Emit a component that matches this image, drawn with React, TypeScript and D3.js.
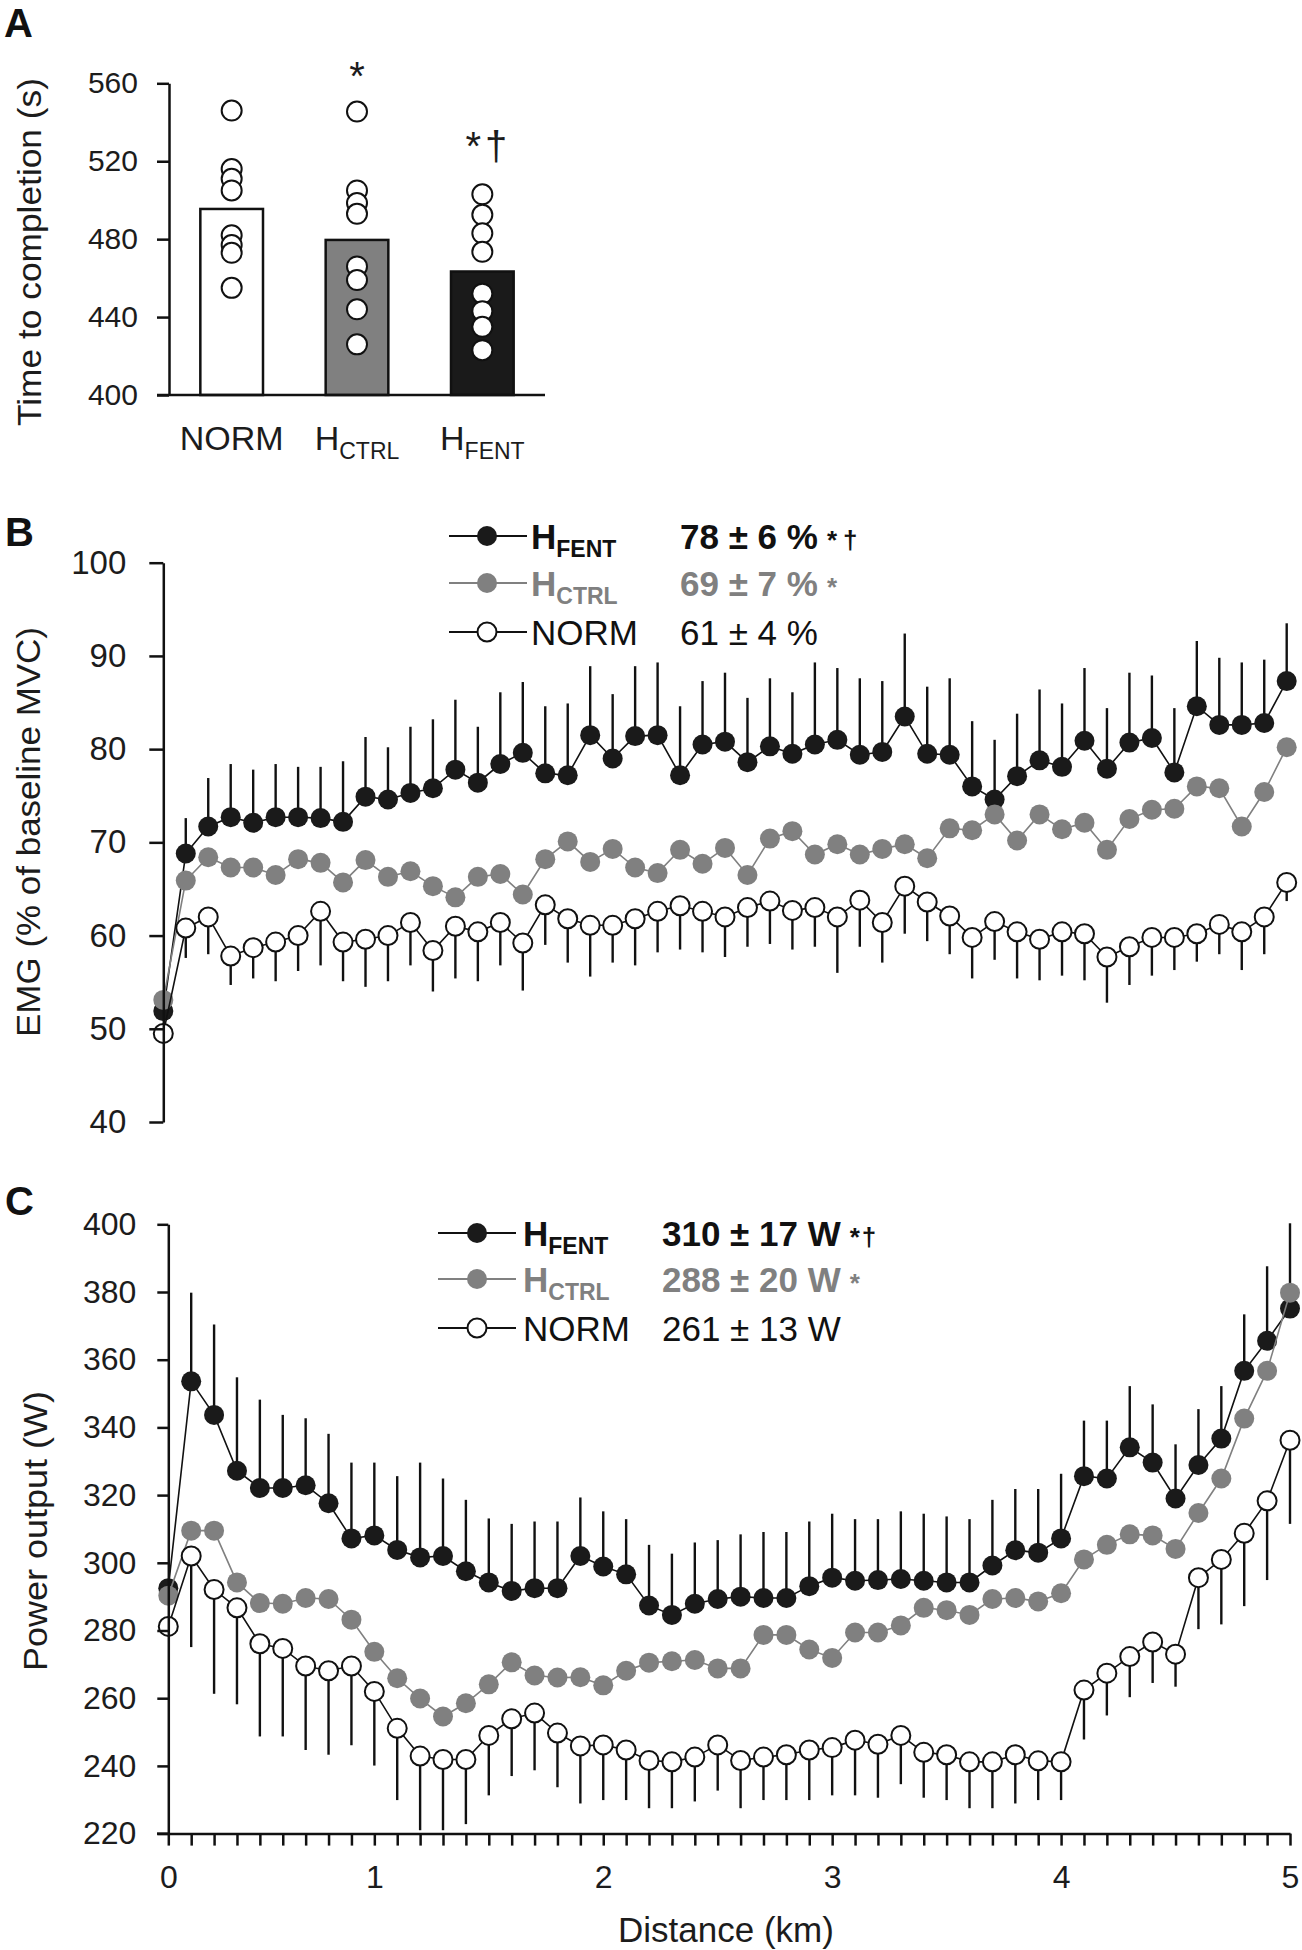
import React, { useEffect, useRef } from "react";
import * as d3 from "d3";

// ---------- Panel A: time to completion ----------
const groups = ["NORM", "HCTRL", "HFENT"];
const timeMean = [495.5, 479.6, 463.4];
const timeNorm = [546, 516, 511, 505, 482, 477, 473, 455];
const timeCtrl = [545.5, 505, 498.5, 493, 466, 459, 444, 426];
const timeFent = [503, 492.5, 483, 473.5, 452, 443, 435, 423];
const timeTicks = [400, 440, 480, 520, 560];

// ---------- Panel B: EMG ----------
const emgDistance = [
  0, 0.1, 0.2, 0.3, 0.4, 0.5, 0.6, 0.7, 0.8, 0.9, 1, 1.1, 1.2, 1.3, 1.4, 1.5, 1.6,
  1.7, 1.8, 1.9, 2, 2.1, 2.2, 2.3, 2.4, 2.5, 2.6, 2.7, 2.8, 2.9, 3, 3.1, 3.2, 3.3,
  3.4, 3.5, 3.6, 3.7, 3.8, 3.9, 4, 4.1, 4.2, 4.3, 4.4, 4.5, 4.6, 4.7, 4.8, 4.9, 5,
];
const emgFent = [
  51.9, 68.8, 71.7, 72.7, 72.1, 72.7, 72.7, 72.6, 72.2, 74.9,
  74.6, 75.3, 75.8, 77.8, 76.4, 78.4, 79.6, 77.4, 77.2, 81.5,
  79.0, 81.4, 81.5, 77.2, 80.5, 80.8, 78.6, 80.3, 79.5, 80.5,
  81.0, 79.4, 79.7, 83.5, 79.5, 79.4, 76.0, 74.6, 77.1, 78.8,
  78.1, 80.9, 77.9, 80.7, 81.2, 77.5, 84.6, 82.6, 82.6, 82.8,
  87.3,
];
const emgFentSd = [
  0, 3.8, 5.2, 5.7, 5.7, 5.7, 5.4, 5.5, 6.5, 6.4,
  5.6, 7.1, 7.4, 7.5, 6.0, 7.7, 7.6, 7.2, 7.7, 7.4,
  6.9, 7.5, 7.8, 7.4, 6.8, 7.4, 6.9, 7.3, 6.6, 8.8,
  7.7, 8.2, 7.6, 8.9, 7.2, 8.2, 7.0, 6.4, 6.7, 7.6,
  6.8, 7.8, 6.5, 7.5, 6.7, 6.9, 7.0, 7.2, 6.7, 6.8,
  6.2,
];
const emgCtrl = [
  53.1, 65.9, 68.4, 67.3, 67.3, 66.5, 68.2, 67.8, 65.7, 68.1,
  66.3, 66.9, 65.3, 64.1, 66.3, 66.6, 64.4, 68.2, 70.1, 67.9,
  69.3, 67.3, 66.7, 69.2, 67.7, 69.4, 66.5, 70.4, 71.2, 68.7,
  69.8, 68.7, 69.3, 69.8, 68.3, 71.5, 71.3, 73.0, 70.2, 73.0,
  71.4, 72.1, 69.2, 72.5, 73.5, 73.6, 76.0, 75.8, 71.7, 75.4,
  80.2,
];
const emgNorm = [
  49.5, 60.8, 62.0, 57.8, 58.7, 59.3, 60.0, 62.6, 59.3, 59.6,
  60.0, 61.4, 58.4, 61.0, 60.4, 61.4, 59.2, 63.3, 61.8, 61.1,
  61.1, 61.8, 62.6, 63.2, 62.6, 62.0, 63.0, 63.7, 62.7, 63.0,
  62.0, 63.8, 61.4, 65.3, 63.6, 62.1, 59.8, 61.5, 60.4, 59.6,
  60.4, 60.2, 57.7, 58.8, 59.8, 59.8, 60.2, 61.2, 60.4, 62.0,
  65.7,
];
const emgNormSd = [
  0, 3.2, 4.0, 3.1, 3.3, 4.2, 3.8, 5.8, 4.2, 5.1,
  4.9, 4.6, 4.4, 5.6, 5.3, 4.6, 5.1, 4.3, 4.7, 5.5,
  4.0, 5.0, 4.4, 4.7, 4.4, 4.3, 4.2, 4.6, 4.2, 4.2,
  6.0, 5.0, 4.3, 5.1, 4.2, 4.1, 4.4, 4.1, 5.0, 4.4,
  4.7, 5.0, 4.9, 4.1, 4.1, 3.5, 3.0, 3.2, 4.1, 4.0,
  2.0,
];
const emgTicks = [40, 50, 60, 70, 80, 90, 100];
const emgSummary = ["78 ± 6 %", "69 ± 7 %", "61 ± 4 %"];

// ---------- Panel C: power output ----------
const powDistance = [
  0, 0.2, 0.3, 0.4, 0.5, 0.6, 0.7, 0.8, 0.9, 1, 1.1, 1.2, 1.3, 1.4, 1.5, 1.6, 1.7,
  1.8, 1.9, 2, 2.1, 2.2, 2.3, 2.4, 2.5, 2.6, 2.7, 2.8, 2.9, 3, 3.1, 3.2, 3.3, 3.4,
  3.5, 3.6, 3.7, 3.8, 3.9, 4, 4.1, 4.2, 4.3, 4.4, 4.5, 4.6, 4.7, 4.8, 4.9, 5,
];
const powFent = [
  292.5, 353.6, 343.7, 327.2, 322.1, 322.1, 322.9, 317.6, 307.2, 308.1,
  303.8, 301.6, 302.0, 297.5, 294.2, 291.7, 292.5, 292.5, 302.0, 298.9,
  296.6, 287.4, 284.6, 287.9, 289.3, 290.0, 289.6, 289.6, 293.1, 295.6,
  294.7, 294.9, 295.2, 294.7, 294.2, 294.2, 299.2, 303.7, 303.0, 307.2,
  325.6, 324.9, 334.1, 329.6, 319.0, 328.9, 336.7, 356.7, 365.6, 375.1,
];
const powFentSd = [
  0, 26.2, 26.7, 27.6, 26.1, 21.6, 19.8, 20.5, 22.4, 21.5,
  21.8, 28.0, 22.9, 21.1, 18.9, 19.8, 19.7, 19.7, 17.3, 16.3,
  16.3, 17.9, 18.1, 18.1, 17.4, 18.4, 19.5, 19.5, 19.1, 18.9,
  18.2, 18.0, 20.0, 19.8, 19.5, 18.7, 19.4, 18.1, 18.8, 19.1,
  16.4, 17.1, 18.1, 17.2, 16.0, 16.5, 15.5, 16.7, 22.0, 25.2,
];
const powCtrl = [
  290.3, 309.5, 309.5, 294.2, 288.1, 287.9, 289.6, 289.3, 283.2, 273.7,
  265.9, 259.9, 254.6, 258.5, 264.1, 270.6, 266.7, 266.1, 266.2, 263.8,
  268.1, 270.5, 270.9, 271.3, 268.8, 268.8, 278.7, 278.7, 274.4, 271.9,
  279.4, 279.4, 281.5, 286.7, 286.0, 284.6, 289.3, 289.6, 288.6, 291.0,
  301.0, 305.3, 308.4, 308.1, 304.1, 314.7, 324.9, 342.6, 356.7, 379.8,
];
const powNorm = [
  281.2, 302.0, 292.1, 286.7, 276.1, 274.7, 269.5, 268.1, 269.5, 262.0,
  251.1, 242.9, 241.9, 241.9, 249.0, 253.9, 255.6, 249.7, 245.9, 246.2,
  244.7, 241.6, 241.2, 242.6, 246.2, 241.6, 242.6, 243.3, 244.7, 245.4,
  247.6, 246.4, 249.0, 244.0, 243.3, 241.2, 241.2, 243.3, 241.5, 241.2,
  262.4, 267.4, 272.3, 276.6, 273.0, 295.6, 301.0, 308.7, 318.3, 336.2,
];
const powNormSd = [
  0, 26.9, 30.8, 28.5, 27.4, 26.0, 24.8, 24.8, 23.4, 21.9,
  21.2, 21.9, 20.9, 19.1, 17.7, 16.9, 16.9, 16.0, 17.0, 16.3,
  14.8, 14.1, 13.7, 13.1, 13.5, 14.1, 12.7, 13.4, 14.8, 14.1,
  16.3, 15.8, 14.4, 13.4, 13.4, 13.7, 13.7, 14.4, 11.6, 11.3,
  14.6, 12.5, 12.0, 12.1, 9.6, 15.2, 19.2, 21.5, 23.4, 24.7,
];
const powTicks = [220, 240, 260, 280, 300, 320, 340, 360, 380, 400];
const powSummary = ["310 ± 17 W", "288 ± 20 W", "261 ± 13 W"];

// legend rows: HFENT, HCTRL, NORM
const legendMain = ["H", "H", "NORM"];
const legendSub = ["FENT", "CTRL", ""];
const legendStars = ["*†", "*", ""];

const FONT = "'Liberation Sans', Arial, Helvetica, sans-serif";
const INK = "#111";
const GREY = "#808080";
const DARK = "#1a1a1a";

const App: React.FC = () => {
  const svgRef = useRef<SVGSVGElement>(null);

  useEffect(() => {
    document.body.style.margin = "0";
    const svg = d3.select(svgRef.current);
    svg.selectAll("*").remove();
    svg
      .attr("width", 1302)
      .attr("height", 1950)
      .style("display", "block")
      .style("font-family", FONT);
    svg.append("rect").attr("width", 1302).attr("height", 1950).attr("fill", "#fff");

    const styleAxis = (g: any, size: number) => {
      g.attr("font-family", FONT).attr("font-size", size);
      g.select(".domain").attr("stroke", INK).attr("stroke-width", 2.5);
      g.selectAll(".tick line").attr("stroke", INK).attr("stroke-width", 2.5);
      g.selectAll(".tick text").attr("fill", "#1c1c1c");
    };

    const panelLetter = (t: string, x: number, y: number) =>
      svg
        .append("text")
        .attr("x", x)
        .attr("y", y)
        .attr("font-size", 40)
        .attr("font-weight", "bold")
        .attr("fill", INK)
        .text(t);

    const yTitle = (t: string, cx: number, cy: number, size: number, len: number) =>
      svg
        .append("text")
        .attr("transform", `translate(${cx},${cy}) rotate(-90)`)
        .attr("text-anchor", "middle")
        .attr("dominant-baseline", "central")
        .attr("font-size", size)
        .attr("textLength", len)
        .attr("lengthAdjust", "spacingAndGlyphs")
        .attr("fill", "#1c1c1c")
        .text(t);

    // ================= Panel A =================
    panelLetter("A", 4, 37);
    const yA = d3.scaleLinear().domain([400, 560]).range([395, 83.3]);
    const xA = d3
      .scaleBand()
      .domain(groups)
      .range([169, 545])
      .paddingInner(0.5)
      .paddingOuter(0.25);

    const barFill = ["#fff", GREY, DARK];
    const gA = svg.append("g");
    gA.selectAll("rect.bar")
      .data(groups)
      .enter()
      .append("rect")
      .attr("x", (d) => xA(d)!)
      .attr("width", xA.bandwidth())
      .attr("y", (_, i) => yA(timeMean[i]))
      .attr("height", (_, i) => yA(400) - yA(timeMean[i]))
      .attr("fill", (_, i) => barFill[i])
      .attr("stroke", INK)
      .attr("stroke-width", 2.5);

    [timeNorm, timeCtrl, timeFent].forEach((vals, gi) => {
      const cx = xA(groups[gi])! + xA.bandwidth() / 2;
      gA.selectAll(null)
        .data(vals)
        .enter()
        .append("circle")
        .attr("cx", cx)
        .attr("cy", (d) => yA(d))
        .attr("r", 10)
        .attr("fill", "#fff")
        .attr("stroke", INK)
        .attr("stroke-width", 2);
    });

    const axA = svg
      .append("g")
      .attr("transform", "translate(169,0)")
      .call(d3.axisLeft(yA).tickValues(timeTicks).tickSize(12).tickPadding(19).tickSizeOuter(0));
    styleAxis(axA, 30);
    svg
      .append("line")
      .attr("x1", 157)
      .attr("x2", 545)
      .attr("y1", yA(400))
      .attr("y2", yA(400))
      .attr("stroke", INK)
      .attr("stroke-width", 2.5);

    // category labels with subscripts
    const catMain = ["NORM", "H", "H"];
    const catSub = ["", "CTRL", "FENT"];
    groups.forEach((g, i) => {
      const t = svg
        .append("text")
        .attr("x", xA(g)! + xA.bandwidth() / 2)
        .attr("y", 450)
        .attr("text-anchor", "middle")
        .attr("font-size", 34)
        .attr("fill", "#1c1c1c");
      t.append("tspan").text(catMain[i]);
      if (catSub[i]) t.append("tspan").attr("font-size", 23).attr("dy", 9).text(catSub[i]);
    });

    // significance marks
    const sigA = ["", "*", "*†"];
    const sigY = [0, 90, 160];
    groups.forEach((g, i) => {
      if (!sigA[i]) return;
      svg
        .append("text")
        .attr("x", xA(g)! + xA.bandwidth() / 2 + (i === 2 ? 6 : 0))
        .attr("y", sigY[i])
        .attr("text-anchor", "middle")
        .attr("font-size", 40)
        .attr("letter-spacing", i === 2 ? 4 : 0)
        .attr("fill", "#1c1c1c")
        .text(sigA[i]);
    });

    yTitle("Time to completion (s)", 29, 252, 33, 348);

    // ================= helpers for B and C =================
    const seriesStyle = [
      { line: INK, fill: DARK, stroke: "none" },
      { line: GREY, fill: GREY, stroke: "none" },
      { line: INK, fill: "#fff", stroke: INK },
    ];

    const drawErrors = (
      g: any,
      xs: number[],
      vals: number[],
      sd: number[],
      y: any,
      dir: number
    ) => {
      const idx = vals.map((_, i) => i).filter((i) => sd[i] > 0);
      g.selectAll(null)
        .data(idx)
        .enter()
        .append("line")
        .attr("x1", (i: number) => xs[i])
        .attr("x2", (i: number) => xs[i])
        .attr("y1", (i: number) => y(vals[i]))
        .attr("y2", (i: number) => y(vals[i] + dir * sd[i]))
        .attr("stroke", INK)
        .attr("stroke-width", 2.4);
    };

    const drawSeries = (g: any, xs: number[], vals: number[], y: any, si: number) => {
      const st = seriesStyle[si];
      const line = d3
        .line<number>()
        .x((_, i) => xs[i])
        .y((d) => y(d));
      g.append("path")
        .datum(vals)
        .attr("d", line)
        .attr("fill", "none")
        .attr("stroke", st.line)
        .attr("stroke-width", 1.6);
      g.selectAll(null)
        .data(vals)
        .enter()
        .append("circle")
        .attr("cx", (_: number, i: number) => xs[i])
        .attr("cy", (d: number) => y(d))
        .attr("r", si === 2 ? 9.5 : 10)
        .attr("fill", st.fill)
        .attr("stroke", st.stroke)
        .attr("stroke-width", 2);
    };

    const drawLegend = (
      rowsY: number[],
      x0: number,
      x1: number,
      mx: number,
      tx: number,
      vx: number,
      values: string[],
      starGap: number
    ) => {
      rowsY.forEach((ry, i) => {
        const st = seriesStyle[i];
        const color = i === 1 ? GREY : "#111";
        const weight = i === 2 ? "normal" : "bold";
        svg
          .append("line")
          .attr("x1", x0)
          .attr("x2", x1)
          .attr("y1", ry)
          .attr("y2", ry)
          .attr("stroke", st.line)
          .attr("stroke-width", 2);
        svg
          .append("circle")
          .attr("cx", mx)
          .attr("cy", ry)
          .attr("r", i === 2 ? 9.5 : 10)
          .attr("fill", st.fill)
          .attr("stroke", st.stroke)
          .attr("stroke-width", 2);
        const t = svg
          .append("text")
          .attr("x", tx)
          .attr("y", ry + 12.5)
          .attr("font-size", 35)
          .attr("font-weight", weight)
          .attr("fill", color);
        t.append("tspan").text(legendMain[i]);
        if (legendSub[i]) t.append("tspan").attr("font-size", 23).attr("dy", 8).text(legendSub[i]);
        const v = svg
          .append("text")
          .attr("x", vx)
          .attr("y", ry + 12.5)
          .attr("font-size", 35)
          .attr("font-weight", weight)
          .attr("fill", color);
        v.append("tspan").text(values[i]);
        if (legendStars[i])
          v.append("tspan")
            .attr("font-size", 26)
            .attr("dx", 9)
            .attr("letter-spacing", starGap)
            .text(legendStars[i]);
      });
    };

    // ================= Panel B =================
    panelLetter("B", 5, 546);
    const xB = d3.scaleLinear().domain([0, 5]).range([163.3, 1286.7]);
    const yB = d3.scaleLinear().domain([40, 100]).range([1122, 562.7]);
    const xsB = emgDistance.map((d) => xB(d));
    const gB = svg.append("g");
    drawErrors(gB, xsB, emgFent, emgFentSd, yB, 1);
    drawErrors(gB, xsB, emgNorm, emgNormSd, yB, -1);
    drawSeries(gB, xsB, emgFent, yB, 0);
    drawSeries(gB, xsB, emgCtrl, yB, 1);
    drawSeries(gB, xsB, emgNorm, yB, 2);
    const axB = svg
      .append("g")
      .attr("transform", "translate(163.3,0)")
      .call(d3.axisLeft(yB).tickValues(emgTicks).tickSize(14).tickPadding(23).tickSizeOuter(0));
    styleAxis(axB, 33);
    yTitle("EMG (% of baseline MVC)", 28, 832, 34, 410);
    drawLegend([536, 583, 632], 449, 527, 487, 531, 680, emgSummary, 6);

    // ================= Panel C =================
    panelLetter("C", 5, 1215);
    const xC = d3
      .scalePoint<string>()
      .domain(powDistance.map(String))
      .range([168.3, 1290]);
    const yC = d3.scaleLinear().domain([220, 400]).range([1833.6, 1224.3]);
    const xsC = powDistance.map((d) => xC(String(d))!);
    const gC = svg.append("g");
    drawErrors(gC, xsC, powFent, powFentSd, yC, 1);
    drawErrors(gC, xsC, powNorm, powNormSd, yC, -1);
    drawSeries(gC, xsC, powFent, yC, 0);
    drawSeries(gC, xsC, powCtrl, yC, 1);
    drawSeries(gC, xsC, powNorm, yC, 2);
    const axCy = svg
      .append("g")
      .attr("transform", "translate(168.3,0)")
      .call(d3.axisLeft(yC).tickValues(powTicks).tickSize(11).tickPadding(21).tickSizeOuter(0));
    styleAxis(axCy, 32);
    const axCx = svg
      .append("g")
      .attr("transform", `translate(0,${yC(220)})`)
      .call(
        d3
          .axisBottom(xC)
          .tickSize(12)
          .tickPadding(20)
          .tickSizeOuter(0)
          .tickFormat((d) => (Number.isInteger(+d) ? d : ""))
      );
    styleAxis(axCx, 32);
    svg
      .append("line")
      .attr("x1", 157)
      .attr("x2", 169)
      .attr("y1", yC(220))
      .attr("y2", yC(220))
      .attr("stroke", INK)
      .attr("stroke-width", 2.5);
    yTitle("Power output (W)", 35, 1531, 34, 280);
    svg
      .append("text")
      .attr("x", 726)
      .attr("y", 1942)
      .attr("text-anchor", "middle")
      .attr("font-size", 35)
      .attr("fill", "#1c1c1c")
      .text("Distance (km)");
    drawLegend([1233, 1279, 1328], 438, 516, 477, 523, 662, powSummary, 2);
  }, []);

  return <svg ref={svgRef}></svg>;
};

export default App;
